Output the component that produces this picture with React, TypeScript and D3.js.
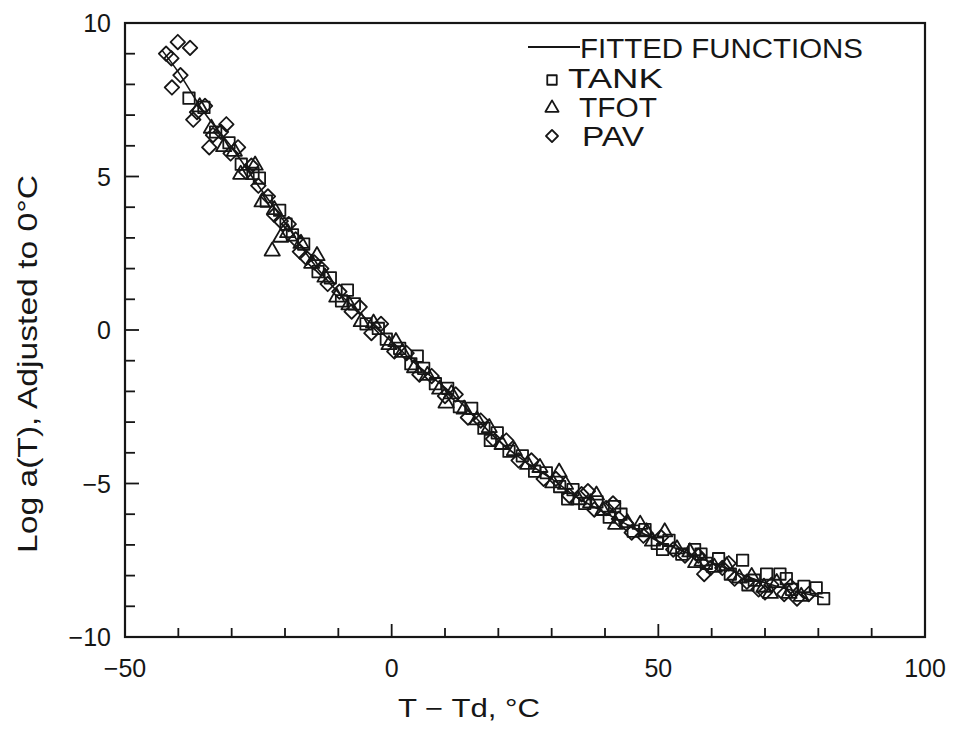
import React from "react";
import * as d3 from "d3";

// ---------- data ----------
const X_TICK_LABELS = [-50, 0, 50, 100];
const Y_TICK_LABELS = [10, 5, 0, -5, -10];

const FIT_X = [-43, -40, -35, -30, -25, -20, -15, -10, -5, 0, 5, 10, 15, 20, 25, 30, 35, 40, 45, 50, 55, 60, 65, 70, 75, 81];
const FIT_Y = [9.1, 8.4, 7.05, 5.95, 4.7, 3.5, 2.25, 1.22, 0.4, -0.38, -1.18, -1.88, -2.72, -3.6, -4.28, -4.85, -5.48, -5.95, -6.42, -6.88, -7.23, -7.57, -7.92, -8.23, -8.48, -8.72];

const TANK_X = [-38.0, -35.2, -33.0, -30.5, -28.2, -26.0, -23.5, -21.0, -18.6, -16.5, -13.8, -11.5, -9.4, -7.0, -4.8, -2.5, -1.0, 1.5, 3.6, 6.0, 8.2, 10.5, 12.7, 15.0, 17.3, 19.8, 22.0, 24.5, 26.8, 29.0, 31.5, 34.0, 36.2, 38.5, 40.8, 43.0, 45.3, 47.5, 49.8, 52.0, 54.4, 56.8, 59.0, 61.3, 63.5, 65.8, 68.0, 70.3, 72.8, 75.0, 77.3, 79.6, 81.0,
  -24.8, -19.8, -8.3, 4.8, 18.5, 33.0, 41.8, 50.8, 58.0, 66.8, 74.0];
const TANK_Y = [7.55, 7.25, 6.45, 6.1, 5.4, 5.1, 4.2, 3.9, 3.1, 2.8, 1.9, 1.7, 0.95, 0.85, 0.2, 0.05, -0.3, -0.6, -1.1, -1.25, -1.75, -1.9, -2.5, -2.55, -3.2, -3.35, -3.95, -4.1, -4.6, -4.65, -5.1, -5.2, -5.65, -5.6, -6.1, -6.0, -6.55, -6.5, -6.95, -6.85, -7.3, -7.15, -7.6, -7.45, -7.95, -7.5, -8.15, -7.95, -7.95, -8.45, -8.35, -8.4, -8.75,
  4.95, 3.45, 1.3, -0.85, -3.6, -5.5, -5.75, -7.15, -7.3, -8.3, -8.1];

const TFOT_X = [-36.0, -33.8, -31.5, -29.5, -25.6, -24.3, -22.4, -22.0, -19.5, -17.0, -15.0, -12.5, -10.3, -8.0, -5.7, -3.4, -0.5, 2.0, 4.3, 6.7, 9.0, 11.2, 13.6, 16.0, 18.3, 20.7, 23.0, 25.5, 27.8, 30.2, 32.6, 35.0, 37.3, 39.6, 42.0, 44.2, 46.6, 48.9, 51.2, 53.5, 55.9, 58.2, 60.5, 62.8, 65.2, 67.5, 69.8, 72.2, 74.5, 76.8,
  -28.3, -20.8, -14.0, 0.8, 10.2, 31.4, 38.4, 47.8, 57.0, 71.0];
const TFOT_Y = [7.3, 6.6, 6.0, 5.85, 5.4, 4.2, 2.6, 3.95, 3.2, 2.85, 2.2, 1.75, 1.1, 0.85, 0.3, 0.25, -0.45, -0.7, -1.2, -1.45, -1.9, -2.05, -2.55, -2.9, -3.15, -3.7, -3.9, -4.35, -4.45, -4.95, -5.0, -5.5, -5.6, -5.85, -6.3, -6.25, -6.3, -6.85, -6.55, -7.1, -7.2, -7.5, -7.7, -7.65, -8.05, -8.0, -8.35, -8.2, -8.55, -8.65,
  5.1, 3.05, 2.45, -0.35, -2.35, -4.6, -5.35, -6.55, -7.55, -8.55];

const PAV_X = [-42.3, -41.3, -40.1, -37.8, -41.2, -39.6, -36.5, -37.2, -35.0, -33.5, -32.0, -30.2, -28.8, -27.3, -25.0, -23.2, -20.8, -18.0, -16.0, -14.5, -12.0, -9.8, -7.5, -6.0, -3.8, -2.0, 0.5, 2.8, 5.2, 7.5, 10.0, 12.0, 14.3, 16.7, 19.0, 21.5, 23.8, 26.2, 28.5, 30.8, 33.3, 35.6, 38.0, 40.2, 42.6, 45.0, 47.2, 50.5, 52.8, 55.0, 57.5, 59.8, 62.0, 64.3, 66.6, 68.8, 71.2, 73.6, 76.0, 78.2,
  -34.2, -31.0, -26.3, -22.0, -19.3, -17.2, -13.2, 36.8, 41.5, 44.0, 58.6, 63.2, 70.0, 74.8];
const PAV_Y = [9.0, 8.85, 9.38, 9.19, 7.9, 8.3, 7.1, 6.85, 7.3, 6.35, 6.45, 5.75, 5.95, 5.15, 4.7, 4.35, 3.55, 2.95, 2.35, 2.2, 1.5, 1.25, 0.6, 0.75, -0.1, 0.2, -0.7, -0.75, -1.45, -1.5, -2.15, -2.1, -2.85, -2.95, -3.55, -3.6, -4.25, -4.25, -4.85, -4.85, -5.4, -5.35, -5.85, -5.8, -6.15, -6.6, -6.7, -6.75, -7.15, -7.35, -7.35, -7.75, -7.75, -8.1, -8.2, -8.45, -8.3, -8.6, -8.75, -8.6,
  5.95, 6.7, 5.35, 3.75, 3.45, 2.55, 2.0, -5.25, -5.65, -6.3, -7.95, -7.6, -8.55, -8.35];

const LEGEND_LABELS = ["FITTED FUNCTIONS", "TANK", "TFOT", "PAV"];
const X_TITLE = "T − Td, °C";
const Y_TITLE = "Log a(T), Adjusted to 0°C";

// ---------- layout ----------
const W = 953;
const H = 729;
const INK = "#161616";
const FONT = "'Liberation Sans', Arial, sans-serif";

const x = d3.scaleLinear().domain([-50, 100]).range([125, 925]);
const y = d3.scaleLinear().domain([-10, 10]).range([637, 23]);

const squarePath = d3.symbol().type(d3.symbolSquare).size(130)()!;
const trianglePath = d3.symbol().type(d3.symbolTriangle).size(100)()!;
const diamondPath = d3.symbol().type(d3.symbolSquare).size(105)()!;
const legendSquare = d3.symbol().type(d3.symbolSquare).size(90)()!;
const legendTriangle = d3.symbol().type(d3.symbolTriangle).size(75)()!;
const legendDiamond = d3.symbol().type(d3.symbolSquare).size(72)()!;

function Marker({ kind, cx, cy, legend = false }: { kind: string; cx: number; cy: number; legend?: boolean }) {
  const common = { fill: "none", stroke: INK, strokeWidth: 1.8, strokeLinejoin: "round" as const };
  if (kind === "square")
    return <path d={legend ? legendSquare : squarePath} transform={`translate(${cx},${cy})`} {...common} />;
  if (kind === "triangle")
    return <path d={legend ? legendTriangle : trianglePath} transform={`translate(${cx},${cy + 1})`} {...common} />;
  return <path d={legend ? legendDiamond : diamondPath} transform={`translate(${cx},${cy}) rotate(45)`} {...common} />;
}

export default function App() {
  const fitLine = d3
    .line<number>()
    .x((_, i) => x(FIT_X[i]))
    .y((d) => y(d))
    .curve(d3.curveCatmullRom)(FIT_Y)!;

  const xTicks = d3.range(-50, 101, 10);
  const yTicks = d3.range(-10, 11, 1);

  const series = [
    { kind: "square", xs: TANK_X, ys: TANK_Y },
    { kind: "triangle", xs: TFOT_X, ys: TFOT_Y },
    { kind: "diamond", xs: PAV_X, ys: PAV_Y },
  ];

  return (
    <svg
      width={W}
      height={H}
      viewBox={`0 0 ${W} ${H}`}
      style={{ position: "absolute", left: 0, top: 0, background: "#fff" }}
    >
      <rect x={0} y={0} width={W} height={H} fill="#fff" />

      {/* fitted functions */}
      <path d={fitLine} fill="none" stroke={INK} strokeWidth={1.6} />

      {/* data markers */}
      {series.map((s) =>
        s.xs.map((v, i) => <Marker key={s.kind + i} kind={s.kind} cx={x(v)} cy={y(s.ys[i])} />)
      )}

      {/* frame */}
      <rect x={x(-50)} y={y(10)} width={x(100) - x(-50)} height={y(-10) - y(10)} fill="none" stroke={INK} strokeWidth={2.2} />

      {/* x ticks (inward) */}
      {xTicks.map((t) => (
        <line key={"xt" + t} x1={x(t)} x2={x(t)} y1={y(-10)} y2={y(-10) - (t % 50 === 0 ? 13 : 9)} stroke={INK} strokeWidth={1.8} />
      ))}
      {/* y ticks (inward) */}
      {yTicks.map((t) => (
        <line key={"yt" + t} x1={x(-50)} x2={x(-50) + (t % 5 === 0 ? 14 : 10)} y1={y(t)} y2={y(t)} stroke={INK} strokeWidth={1.8} />
      ))}

      {/* tick labels */}
      {X_TICK_LABELS.map((t) => (
        <text key={"xl" + t} x={x(t)} y={y(-10) + 40} textAnchor="middle" fontFamily={FONT} fontSize={25} fill={INK}>
          {t < 0 ? "−" + Math.abs(t) : String(t)}
        </text>
      ))}
      {Y_TICK_LABELS.map((t) => (
        <text key={"yl" + t} x={111} y={y(t) + 9} textAnchor="end" fontFamily={FONT} fontSize={25} fill={INK}>
          {t < 0 ? "−" + Math.abs(t) : String(t)}
        </text>
      ))}

      {/* axis titles */}
      <text x={469} y={717} textAnchor="middle" fontFamily={FONT} fontSize={25} fill={INK} textLength={142} lengthAdjust="spacingAndGlyphs">
        {X_TITLE}
      </text>
      <text
        transform="translate(37,364) rotate(-90)"
        textAnchor="middle"
        fontFamily={FONT}
        fontSize={28}
        fill={INK}
        textLength={378}
        lengthAdjust="spacingAndGlyphs"
      >
        {Y_TITLE}
      </text>

      {/* legend */}
      <line x1={528} x2={580} y1={47} y2={47} stroke={INK} strokeWidth={2} />
      <text x={580} y={58} fontFamily={FONT} fontSize={27} fill={INK} textLength={283} lengthAdjust="spacingAndGlyphs">
        {LEGEND_LABELS[0]}
      </text>
      <Marker kind="square" cx={552} cy={80} legend />
      <text x={568} y={88} fontFamily={FONT} fontSize={27} fill={INK} textLength={95} lengthAdjust="spacingAndGlyphs">
        {LEGEND_LABELS[1]}
      </text>
      <Marker kind="triangle" cx={552} cy={107} legend />
      <text x={579} y={117} fontFamily={FONT} fontSize={27} fill={INK} textLength={78} lengthAdjust="spacingAndGlyphs">
        {LEGEND_LABELS[2]}
      </text>
      <Marker kind="diamond" cx={552} cy={136} legend />
      <text x={582} y={146} fontFamily={FONT} fontSize={27} fill={INK} textLength={62} lengthAdjust="spacingAndGlyphs">
        {LEGEND_LABELS[3]}
      </text>
    </svg>
  );
}
